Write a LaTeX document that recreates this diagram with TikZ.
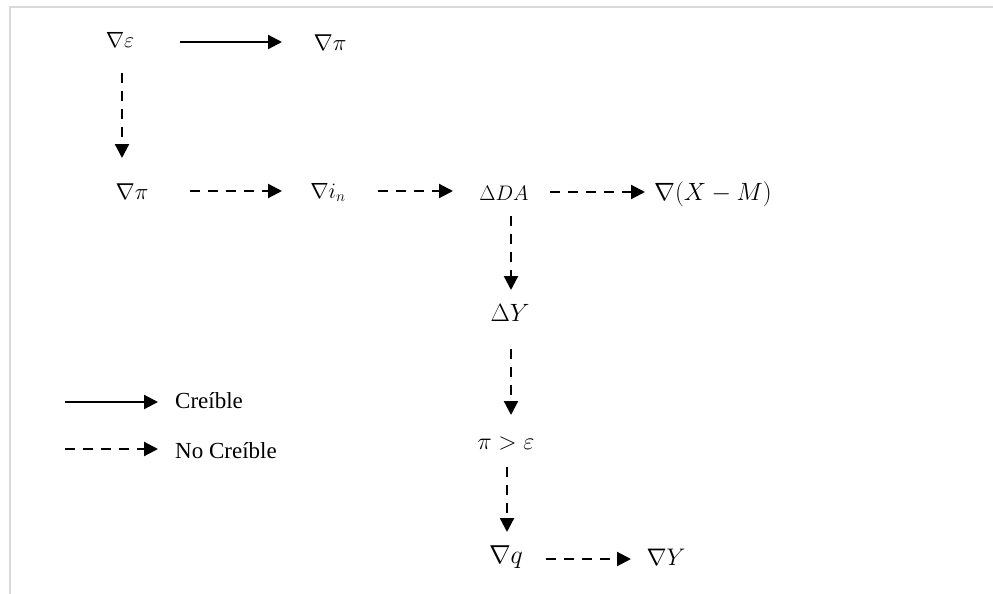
\documentclass[tikz,border=0pt]{standalone}
\usepackage{fix-cm}
\usepackage{amsmath}
\usepackage{fontspec}
\newfontfamily\legfont{Liberation Serif}
\usetikzlibrary{arrows.meta,calc}
\definecolor{framegray}{HTML}{D9D9D9}
\tikzset{
  m19/.style={inner sep=0pt, font=\fontsize{21}{21}\selectfont, text height=14.3pt, text depth=0pt},
  m21/.style={inner sep=0pt, font=\fontsize{22}{22}\selectfont, text height=15pt, text depth=0pt},
  m22/.style={inner sep=0pt, font=\fontsize{23}{23}\selectfont, text height=15.6pt, text depth=0pt},
  m23/.style={inner sep=0pt, font=\fontsize{24}{24}\selectfont, text height=16.3pt, text depth=0pt},
  m24/.style={inner sep=0pt, font=\fontsize{25}{25}\selectfont, text height=17pt, text depth=0pt},
  m25/.style={inner sep=0pt, font=\fontsize{26}{26}\selectfont, text height=17.7pt, text depth=0pt},
  legtext/.style={inner sep=0pt, anchor=west, font=\legfont\fontsize{23}{23}\selectfont},
  solidarr/.style={line width=2.2pt, -{Triangle[length=14pt,width=14pt]}},
  dasharr/.style={line width=2.2pt, dash pattern=on 10pt off 8pt, -{Triangle[length=14pt,width=14pt]}},
  framel/.style={draw=framegray, line width=2pt}
}
\begin{document}
\begin{tikzpicture}[x=1pt,y=-1pt]
\useasboundingbox (0,0) rectangle (993,594);
\draw[framel] (10,594) -- (10,7) -- (993,7);

% nodes
\node[m21] (eps) at (120,40) {$\nabla\varepsilon$};
\node[m22] (pia) at (330,43) {$\nabla\pi$};
\node[m22] (pib) at (132,192) {$\nabla\pi$};
\node[m21] (inn) at (328,191) {$\nabla i_n$};
\node[m19] (da) at (504,193) {$\Delta DA$};
\node[m24] (xm) at (713,192) {$\nabla(X-M)$};
\node[m24] (dy) at (510,313) {$\Delta Y$};
\node[m23] (pe) at (506,441) {$\pi>\varepsilon$};
\node[m25] (q) at (506,555) {$\nabla q$};
\node[m23] (yb) at (666,557) {$\nabla Y$};

% connectors
\draw[solidarr] ($(eps.center)+(60,2)$) -- ($(pia.center)+(-48,-1)$);
\draw[dasharr] ($(eps.center)+(2,33)$) -- ($(pib.center)+(-10,-34)$);
\draw[dasharr] ($(pib.center)+(58,-1)$) -- ($(inn.center)+(-46,0)$);
\draw[dasharr] ($(inn.center)+(50,0)$) -- ($(da.center)+(-51,-2)$);
\draw[dasharr] ($(da.center)+(46,-1)$) -- ($(xm.center)+(-68,0)$);
\draw[dasharr] ($(da.center)+(7,23)$) -- ($(dy.center)+(1,-23)$);
\draw[dasharr] ($(dy.center)+(1,36)$) -- ($(pe.center)+(5,-26)$);
\draw[dasharr] ($(pe.center)+(1,26)$) -- ($(q.center)+(1,-23)$);
\draw[dasharr] ($(q.center)+(40,4)$) -- ($(yb.center)+(-35,2)$);

% legend
\coordinate (ls1) at (65,402);
\coordinate (ls2) at (158,402);
\coordinate (ld1) at (65,449);
\coordinate (ld2) at (158,449);
\draw[solidarr] (ls1) -- (ls2);
\draw[dasharr] (ld1) -- (ld2);
\node[legtext] (lcred) at (175,401) {Creíble};
\node[legtext] (lnocred) at (175,451) {No Creíble};
\end{tikzpicture}
\end{document}
